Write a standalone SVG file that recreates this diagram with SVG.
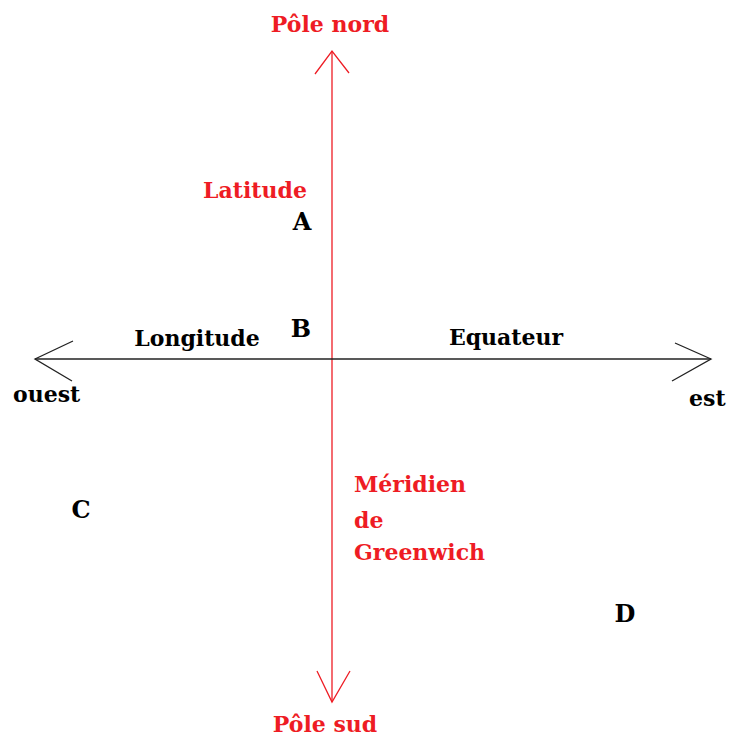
<svg xmlns="http://www.w3.org/2000/svg" width="741" height="738" viewBox="0 0 741 738">
<style>
text{font-family:"DejaVu Serif","Liberation Serif",serif;font-weight:bold;font-size:22px}
.r{fill:#ee1c24}
.k{fill:#000}
.big{font-size:24px}
</style>
<rect width="741" height="738" fill="#fff"/>
<g id="connectors" fill="none" stroke-width="1.3">
<g id="meridien" stroke="#ee1c24">
<line x1="332" y1="51" x2="332" y2="702"/>
<polyline points="315,74 332,51 349,73"/>
<polyline points="317,671 332,702 350,671"/>
</g>
<g id="equateur" stroke="#222">
<line x1="35" y1="359" x2="711" y2="359"/>
<polyline points="73,341 35,359 72,381"/>
<polyline points="675,343 711,359 672,381"/>
</g>
</g>
<g id="labels">
<text id="pole-nord" class="r" x="330" y="32" text-anchor="middle">Pôle nord</text>
<text id="pole-sud" class="r" x="325" y="732" text-anchor="middle">Pôle sud</text>
<text id="latitude" class="r" x="255" y="198" text-anchor="middle">Latitude</text>
<text id="longitude" class="k" x="197" y="346" text-anchor="middle">Longitude</text>
<text id="equateur-label" class="k" x="506" y="345" text-anchor="middle">Equateur</text>
<text id="ouest" class="k" x="13" y="402">ouest</text>
<text id="est" class="k" x="689" y="406">est</text>
<text id="meridien-label" class="r" x="354"><tspan x="354" y="492">Méridien</tspan><tspan x="354" y="528">de</tspan><tspan x="354" y="560">Greenwich</tspan></text>
</g>
<g id="A"><text class="k big" x="302" y="230" text-anchor="middle">A</text></g>
<g id="B"><text class="k big" x="301" y="337" text-anchor="middle">B</text></g>
<g id="C"><text class="k big" x="81" y="518" text-anchor="middle">C</text></g>
<g id="D"><text class="k big" x="625" y="622" text-anchor="middle">D</text></g>
</svg>
